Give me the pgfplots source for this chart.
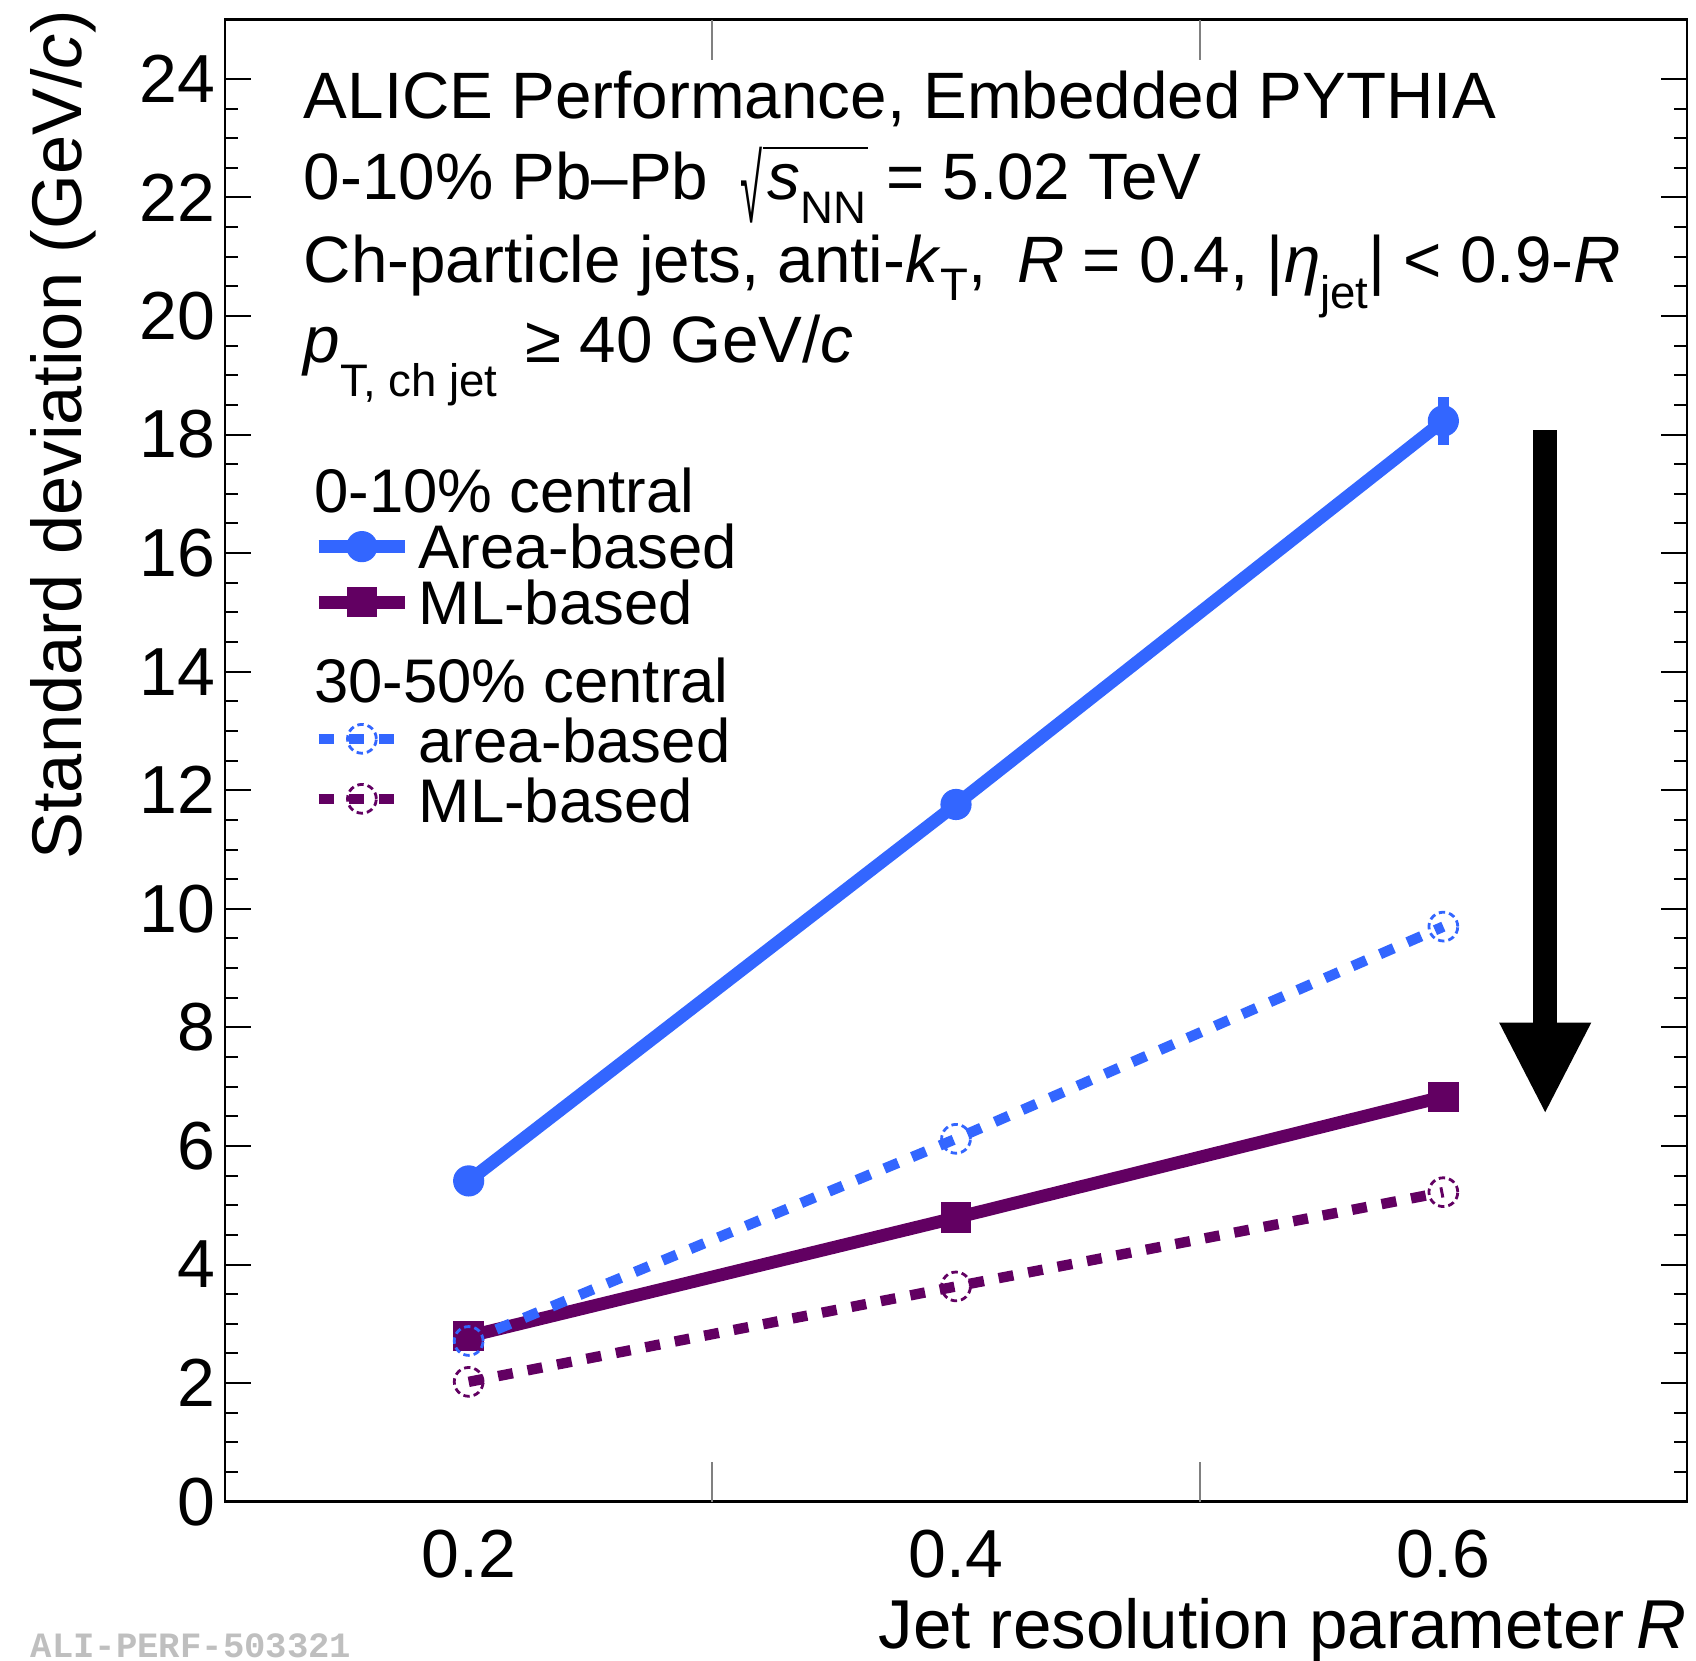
\documentclass[border=0pt]{standalone}
\usepackage{fontspec}
\setmainfont{Liberation Sans}
\newfontfamily\monofont{Liberation Mono}
\usepackage{graphicx}
\usepackage{pgfplots}
\pgfplotsset{compat=1.18}
\definecolor{rblue}{RGB}{51,102,255}
\definecolor{rpurple}{RGB}{98,0,98}
\newcommand{\sub}[2][6pt]{\raisebox{-#1}{\fontsize{11.4pt}{12pt}\selectfont #2}}
\newcommand{\ls}{\rule[-2.6pt]{0pt}{15.0pt}}
\newcommand{\lb}{\rule[-2.6pt]{0pt}{16.1pt}}
\newcommand{\bs}{\rule[-2.6pt]{0pt}{20.8pt}}
\newcommand{\mysqrt}[1]{{\setbox0=\hbox{\kern1.2pt #1\kern0.5pt}%
\raisebox{-5.75pt}{\resizebox*{5.5pt}{19pt}{\raisebox{\depth}{√}}}%
\rlap{\raisebox{12.7pt}{\rule{\wd0}{0.55pt}}}\box0}}
\begin{document}
\begin{tikzpicture}
\begin{axis}[
  name=ax, scale only axis, width=365.5pt, height=370.5pt,
  xmin=0.1, xmax=0.7, ymin=0, ymax=25,
  clip=false,
  axis line style={line width=0.6pt},
  /pgf/number format/assume math mode=true,
  xtick={0.2,0.4,0.6},
  xtick style={draw=none},
  extra x ticks={0.3,0.5}, extra x tick labels={},
  extra x tick style={major tick length=10pt, xtick style={draw=gray, line width=0.5pt}},
  ytick={0,2,...,24},
  minor y tick num=3,
  ytick style={line width=0.5pt, black},
  major tick length=6.5pt, minor tick length=3.2pt,
  tick label style={font=\fontsize{17pt}{20pt}\selectfont},
  xticklabel style={anchor=north, inner sep=0pt, yshift=-7pt},
  yticklabel style={anchor=east, inner sep=0pt, xshift=-2.3pt},
  ylabel={Standard deviation (GeV/\textit{c})},
  ylabel style={at={(axis description cs:-0.0876,1.0067)}, anchor=south east, inner sep=0pt, font=\fontsize{17.6pt}{20pt}\selectfont},
  xlabel={Jet resolution parameter\,\textit{R}},
  xlabel style={at={(axis description cs:1,-0.0646)}, anchor=north east, inner sep=0pt, text depth=0pt, font=\fontsize{17.3pt}{20pt}\selectfont},
  legend cell align=left,
  legend image code/.code={\draw[mark repeat=2, mark phase=2] plot coordinates {(0pt,0pt) (10.8pt,0pt) (21.6pt,0pt)};},
  legend style={at={(axis cs:0.1355,17.53)}, anchor=north west, draw=none, fill=none,
    inner sep=0pt, row sep=0pt, column sep=1.8pt,
    font=\fontsize{15.4pt}{18pt}\selectfont, nodes={inner sep=0pt}},
]
% 0-10% area-based
\addplot[forget plot, rblue, line width=3.2pt, mark=*, mark size=3.7pt, mark options={line width=0.4pt},
  error bars/.cd, y dir=both, y explicit, error mark=none,
  error bar style={line width=2.6pt, solid}]
  table[x=x, y=y, y error=e] {
x y e
0.2 5.41 0.05
0.4 11.76 0.25
0.6 18.23 0.40
};
% 0-10% ML-based
\addplot[forget plot, rpurple, line width=3.2pt, mark=square*, mark size=3.6pt, mark options={line width=0.4pt}]
  table {
0.2 2.79
0.4 4.79
0.6 6.83
};
% 30-50% area-based
\addplot[forget plot, rblue, line width=2.6pt, dash pattern=on 3.75pt off 3.75pt,
  mark=o, mark size=3.6pt, mark options={line width=0.7pt, dash pattern=on 1.6pt off 1pt}]
  table {
0.2 2.71
0.4 6.12
0.6 9.70
};
% 30-50% ML-based
\addplot[forget plot, rpurple, line width=2.6pt, dash pattern=on 3.75pt off 3.75pt,
  mark=o, mark size=3.6pt, mark options={line width=0.7pt, dash pattern=on 1.6pt off 1pt}]
  table {
0.2 2.02
0.4 3.63
0.6 5.22
};
% legend
\addlegendimage{empty legend}
\addlegendentry{\hspace*{-26.1pt}\ls 0-10\% central}
\addlegendimage{rblue, line width=3.2pt, mark=*, mark size=3.7pt, mark options={line width=0.4pt}}
\addlegendentry{\ls Area-based}
\addlegendimage{rpurple, line width=3.2pt, mark=square*, mark size=3.6pt, mark options={line width=0.4pt}}
\addlegendentry{\ls ML-based}
\addlegendimage{empty legend}
\addlegendentry{\hspace*{-26.1pt}\bs 30-50\% central}
\addlegendimage{rblue, line width=2.6pt, dash pattern=on 3.75pt off 3.75pt, mark=o, mark size=3.6pt, mark options={line width=0.7pt, dash pattern=on 1.6pt off 1pt}}
\addlegendentry{\lb area-based}
\addlegendimage{rpurple, line width=2.6pt, dash pattern=on 3.75pt off 3.75pt, mark=o, mark size=3.6pt, mark options={line width=0.7pt, dash pattern=on 1.6pt off 1pt}}
\addlegendentry{\lb ML-based}
% annotations
\begin{scope}[every node/.style={anchor=base west, inner sep=0pt, font=\fontsize{16.4pt}{19pt}\selectfont}]
\node at (axis cs:0.132,23.33) {ALICE Performance, Embedded PYTHIA};
\node at (axis cs:0.132,21.96) {0-10\% Pb--Pb\hspace{8pt}\mysqrt{\textit{s}\sub[6pt]{NN}} = 5.02 TeV};
\node at (axis cs:0.132,20.56) {Ch-particle jets, anti-\textit{k}\sub[4.5pt]{T},\hspace{3pt} \textit{R} = 0.4, |\textit{η}\sub[6.5pt]{jet}| < 0.9-\textit{R}};
\node at (axis cs:0.132,19.22) {\textit{p}\sub[8.5pt]{T, ch jet}\hspace{2.5pt} ≥ 40 GeV/\textit{c}};
\end{scope}
% arrow
\fill[black] (axis cs:0.6369,18.07) rectangle (axis cs:0.6467,8.05);
\fill[black] (axis cs:0.6229,8.08) -- (axis cs:0.6607,8.08) -- (axis cs:0.6418,6.57) -- cycle;
\end{axis}
\node[anchor=base west, inner sep=0pt, text=gray!50, font=\monofont\bfseries\fontsize{8.9pt}{10pt}\selectfont]
  at ([shift={(-48.75pt,-39pt)}]ax.south west) {ALI-PERF-503321};
\path ([shift={(-56.25pt,-39.75pt)}]ax.south west) rectangle ([shift={(2.25pt,4.9pt)}]ax.north east);
\end{tikzpicture}
\end{document}
